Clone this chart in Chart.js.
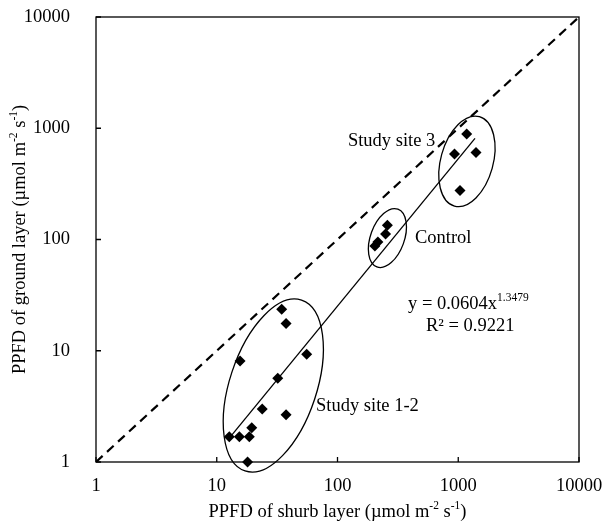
<!DOCTYPE html>
<html>
<head>
<meta charset="utf-8">
<script src="https://cdn.jsdelivr.net/npm/chart.js@4.4.0/dist/chart.umd.min.js"></script>
<style>
  html, body { margin: 0; padding: 0; background: #fff; }
  #wrap { width: 613px; height: 525px; }
</style>
</head>
<body>
<div id="wrap"><canvas id="grafico"></canvas></div>
<script>
// PPFD values (umol m-2 s-1)
var shrubSite12 = [12.7, 15.4, 18.6, 18.0, 19.5, 23.8, 37.5, 32, 15.6, 55.6, 37.5, 34.5];
var groundSite12 = [1.69, 1.69, 1.69, 1.0, 2.03, 3.0, 2.66, 5.65, 8.1, 9.3, 17.6, 23.6];
var shrubControl = [204, 216, 250, 259];
var groundControl = [87.5, 95, 112, 134];
var shrubSite3 = [931, 1034, 1175, 1403];
var groundSite3 = [587, 276, 888, 605];

// power trend line (ends as drawn) and the 1:1 line
var fitX = [13, 1376];
var fitY = [1.69, 812];
var oneToOne = [1, 10000];

var tickValues = [1, 10, 100, 1000, 10000];

var fonte = "'Liberation Serif', 'Times New Roman', serif";

function pares(xs, ys) {
  return xs.map(function (x, i) { return { x: x, y: ys[i] }; });
}

function pontos(xs, ys) {
  return {
    data: pares(xs, ys),
    pointStyle: 'rectRot',
    pointRadius: 5.5,
    backgroundColor: '#000',
    borderColor: '#000',
    borderWidth: 0,
    showLine: false,
    clip: false
  };
}

// groups circled on the figure: centre in data units, radii in px
var elipses = [
  { x: 29.4, y: 4.87, a: 90, b: 43.5, rot: 18.3 },
  { x: 259, y: 103, a: 30.7, b: 16.9, rot: 20 },
  { x: 1180, y: 504, a: 46.4, b: 26.2, rot: 15.6 }
];

var rotulos = [
  { x: 122, y: 773, runs: [{ t: 'Study site 3' }] },
  { x: 438, y: 102.5, runs: [{ t: 'Control' }] },
  { x: 384, y: 26.3, runs: [{ t: 'y = 0.0604x' }, { t: '1.3479', sup: true }] },
  { x: 541, y: 16.5, runs: [{ t: 'R² = 0.9221' }] },
  { x: 66.4, y: 3.21, runs: [{ t: 'Study site 1-2' }] }
];

function textoRico(ctx, runs, x, y, size, align) {
  var total = 0;
  runs.forEach(function (r) {
    ctx.font = (r.sup ? size * 0.62 : size) + 'px ' + fonte;
    r.w = ctx.measureText(r.t).width;
    total += r.w;
  });
  var cx = align === 'center' ? x - total / 2 : x;
  runs.forEach(function (r) {
    ctx.font = (r.sup ? size * 0.62 : size) + 'px ' + fonte;
    ctx.fillText(r.t, cx, r.sup ? y - size * 0.33 : y);
    cx += r.w;
  });
}

var extras = {
  id: 'extras',
  afterDatasetsDraw: function (chart) {
    var ctx = chart.ctx;
    var xs = chart.scales.x, ys = chart.scales.y;
    ctx.save();
    ctx.strokeStyle = '#000';
    ctx.lineWidth = 1.3;
    elipses.forEach(function (e) {
      ctx.beginPath();
      ctx.ellipse(xs.getPixelForValue(e.x), ys.getPixelForValue(e.y), e.b, e.a, e.rot * Math.PI / 180, 0, 2 * Math.PI);
      ctx.stroke();
    });
    ctx.fillStyle = '#000';
    ctx.textBaseline = 'middle';
    ctx.textAlign = 'left';
    rotulos.forEach(function (r) {
      textoRico(ctx, r.runs, xs.getPixelForValue(r.x), ys.getPixelForValue(r.y), 18.5, 'left');
    });
    ctx.restore();
  },
  afterDraw: function (chart) {
    var ctx = chart.ctx;
    var a = chart.chartArea;
    var xs = chart.scales.x, ys = chart.scales.y;
    ctx.save();
    ctx.strokeStyle = '#000';
    ctx.lineWidth = 1.3;
    ctx.strokeRect(a.left, a.top, a.right - a.left, a.bottom - a.top);
    // inward tick marks
    ctx.beginPath();
    tickValues.forEach(function (v) {
      var px = xs.getPixelForValue(v);
      ctx.moveTo(px, a.bottom);
      ctx.lineTo(px, a.bottom - 5);
      var py = ys.getPixelForValue(v);
      ctx.moveTo(a.left, py);
      ctx.lineTo(a.left + 5, py);
    });
    ctx.stroke();
    // axis titles with superscripts
    ctx.fillStyle = '#000';
    ctx.textBaseline = 'middle';
    ctx.textAlign = 'left';
    textoRico(ctx, [
      { t: 'PPFD of shurb layer (µmol m' }, { t: '-2', sup: true },
      { t: ' s' }, { t: '-1', sup: true }, { t: ')' }
    ], (a.left + a.right) / 2, 512, 18.5, 'center');
    ctx.translate(20, (a.top + a.bottom) / 2);
    ctx.rotate(-Math.PI / 2);
    textoRico(ctx, [
      { t: 'PPFD of ground layer (µmol m' }, { t: '-2', sup: true },
      { t: ' s' }, { t: '-1', sup: true }, { t: ')' }
    ], 0, 0, 18.5, 'center');
    ctx.restore();
  }
};

function eixo(largura, altura, pad) {
  return {
    type: 'logarithmic',
    min: 1,
    max: 10000,
    afterBuildTicks: function (s) {
      s.ticks = tickValues.map(function (v) { return { value: v }; });
    },
    afterFit: function (s) {
      if (largura) s.width = largura;
      if (altura) s.height = altura;
      s.paddingTop = 0;
      s.paddingBottom = 0;
      s.paddingLeft = 0;
      s.paddingRight = 0;
    },
    ticks: {
      autoSkip: false,
      maxRotation: 0,
      padding: pad,
      color: '#000',
      font: { family: fonte, size: 18.5 },
      callback: function (v) { return String(v); }
    },
    grid: { display: false },
    border: { display: false }
  };
}

var ctx = document.getElementById('grafico').getContext('2d');
var chart = new Chart(ctx, {
  type: 'scatter',
  data: {
    datasets: [
      {
        data: pares(oneToOne, oneToOne),
        showLine: true,
        borderColor: '#000',
        borderWidth: 2.2,
        borderDash: [9, 6],
        pointRadius: 0
      },
      {
        data: pares(fitX, fitY),
        showLine: true,
        borderColor: '#000',
        borderWidth: 1.3,
        pointRadius: 0
      },
      pontos(shrubSite12, groundSite12),
      pontos(shrubControl, groundControl),
      pontos(shrubSite3, groundSite3)
    ]
  },
  options: {
    responsive: true,
    maintainAspectRatio: false,
    animation: false,
    devicePixelRatio: 1,
    layout: { padding: { left: 0, top: 17, right: 34, bottom: 0 } },
    plugins: { legend: { display: false }, tooltip: { enabled: false } },
    scales: {
      x: eixo(0, 63, 5),
      y: eixo(96, 0, 18)
    }
  },
  plugins: [extras]
});
</script>
</body>
</html>
